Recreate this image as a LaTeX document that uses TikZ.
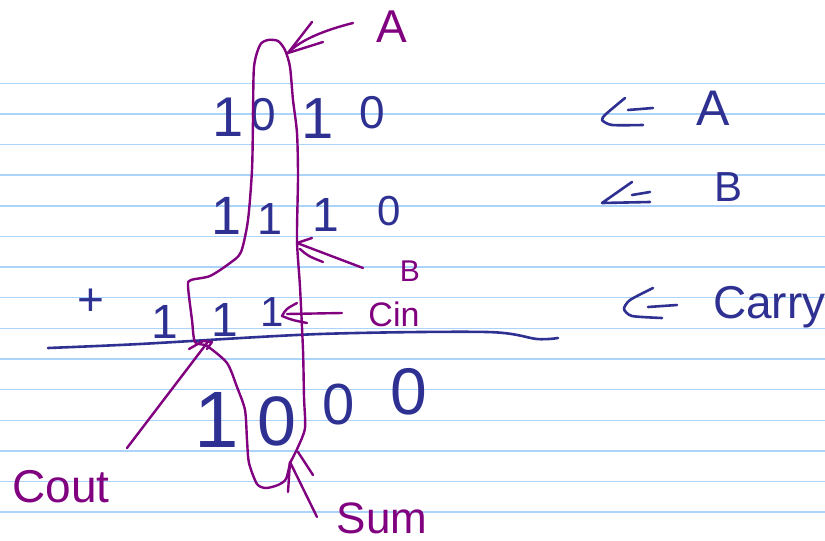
\documentclass[tikz,border=0pt]{standalone}
\usepackage{fontspec}
\setmainfont{Liberation Sans}
\definecolor{rulec}{RGB}{172,212,250}
\definecolor{ink}{RGB}{46,49,146}
\definecolor{pinkink}{RGB}{128,0,128}
\begin{document}
\begin{tikzpicture}[x=1pt,y=-1pt,line cap=round,line join=round,
  rulel/.style={draw=rulec,line width=1.4pt},
  blueink/.style={draw=ink,line width=2.6pt},
  purpleink/.style={draw=pinkink,line width=2.4pt},
  dg/.style={text=ink,inner sep=0pt,font=\fontsize{#1}{#1}\selectfont},
  lbl/.style={text=pinkink,inner sep=0pt,font=\fontsize{#1}{#1}\selectfont}]
\useasboundingbox (0,0) rectangle (825,541);
\fill[white] (0,0) rectangle (825,541);
% ruled paper
\foreach \k in {0,...,14}
  \draw[rulel] (0,{83.3+30.63*\k}) -- (825,{83.3+30.63*\k});

% row A
\node[dg=56] (a1) at (228,117) {1};
\node[dg=46] (a2) at (263,115) {0};
\node[dg=58] (a3) at (318,119) {1};
\node[dg=46] (a4) at (372,113) {0};
% row B
\node[dg=54] (b1) at (227,216) {1};
\node[dg=45] (b2) at (270,219) {1};
\node[dg=48] (b3) at (326,215) {1};
\node[dg=42] (b4) at (389,211) {0};
% carry row
\node[dg=46] (plus) at (91,302) {+};
\node[dg=48] (c1) at (165,322) {1};
\node[dg=48] (c2) at (225,320) {1};
\node[dg=42] (c3) at (272,312) {1};
% sum row
\node[dg=80] (s1) at (217,420) {1};
\node[dg=70] (s2) at (277,421) {0};
\node[dg=58] (s3) at (339,405) {0};
\node[dg=66] (s4) at (409,392) {0};

% sum line
\draw[blueink] plot[smooth] coordinates {(48,348) (140,344) (320,334) (487,332) (537,339) (558,338)};

% right column
\node[dg=50] (rA) at (713,108) {A};
\node[dg=42] (rB) at (728,187) {B};
\node[dg=46,anchor=base west] (rC) at (713,318) {Carry};
\coordinate (pA) at (602,120);
\coordinate (pB) at (602,203);
\coordinate (pC) at (624,309);
\draw[blueink] plot[smooth,tension=0.4] coordinates {(625,98) (606,114) (pA) (612,125) (643,125)};
\draw[blueink] (628,110) -- (653,108);
\draw[blueink] (632,182) -- (pB) -- (650,202);
\draw[blueink] (632,195) -- (650,192);
\draw[blueink] plot[smooth,tension=0.4] coordinates {(653,288) (630,300) (pC) (632,316) (662,318)};
\draw[blueink] (648,307) -- (677,305);

% the purple loop
\draw[purpleink] plot[smooth,tension=0.45] coordinates {
  (290,463) (298,447) (305,428) (304,397) (303,350) (300,287) (297,240)
  (298,177) (297,133) (293,100) (290,67) (285,50) (278,41) (268,40) (260,45)
  (254,67) (253,120) (252,170) (248,220) (241,252) (230,263) (210,276)
  (191,280) (188,286) (192,320) (195,342) (207,346) (227,363) (237,387)
  (245,410) (247,440) (249,463) (257,484) (266,488) (278,485) (286,479) (290,463)};

% labels
\node[lbl=46] (lA) at (392,27) {A};
\node[lbl=30] (lB) at (410,271) {B};
\node[lbl=34] (lCin) at (394,314) {Cin};
\node[lbl=46] (lCout) at (61,487) {Cout};
\node[lbl=44] (lSum) at (382,518) {Sum};

% arrows
\coordinate (tA) at (288,53);
\coordinate (sA) at (353,23);
\draw[purpleink] (sA) .. controls (325,30) and (300,40) .. (tA);
\draw[purpleink] (tA) -- (312,22);
\draw[purpleink] (tA) -- (323,42);

\coordinate (tB) at (297,243);
\coordinate (sB) at (363,268);
\draw[purpleink] (sB) -- (tB);
\draw[purpleink] (tB) -- (312,238);
\draw[purpleink] (300,249) .. controls (308,256) .. (323,262);

\coordinate (tCin) at (282,316);
\coordinate (sCin) at (342,313);
\draw[purpleink] (sCin) -- (287,314);
\draw[purpleink] (297,303) .. controls (286,309) .. (tCin) .. controls (292,320) .. (307,323);

\coordinate (tCout) at (207,343);
\coordinate (sCout) at (127,448);
\draw[purpleink] (sCout) -- (tCout);
\draw[purpleink] (189,349) -- (203,341) -- (212,342) -- (207,349);

\coordinate (tSum) at (290,462);
\coordinate (sSum) at (317,517);
\draw[purpleink] (sSum) -- (tSum);
\draw[purpleink] (tSum) -- (288,492);
\draw[purpleink] (298,452) -- (313,475);
\end{tikzpicture}
\end{document}
